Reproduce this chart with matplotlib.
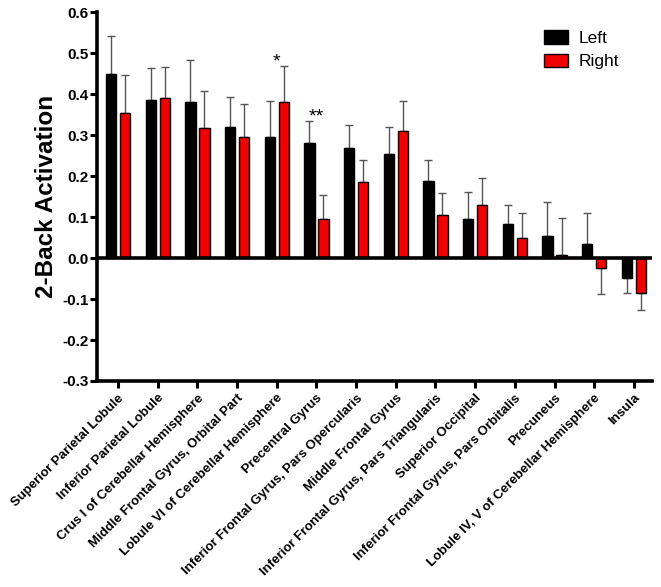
import numpy as np
import matplotlib
matplotlib.use('Agg')
import matplotlib.pyplot as plt
from matplotlib.patches import Patch

plt.rcParams['font.family'] = ['Liberation Sans', 'DejaVu Sans']

# ---------------------------
# data
# ---------------------------
regions = [
    "Superior Parietal Lobule",
    "Inferior Parietal Lobule",
    "Crus I of Cerebellar Hemisphere",
    "Middle Frontal Gyrus, Orbital Part",
    "Lobule VI of Cerebellar Hemisphere",
    "Precentral Gyrus",
    "Inferior Frontal Gyrus, Pars Opercularis",
    "Middle Frontal Gyrus",
    "Inferior Frontal Gyrus, Pars Triangularis",
    "Superior Occipital",
    "Inferior Frontal Gyrus, Pars Orbitalis",
    "Precuneus",
    "Lobule IV, V of Cerebellar Hemisphere",
    "Insula",
]
left_mean = [0.449, 0.385, 0.380, 0.321, 0.295, 0.280, 0.269, 0.254, 0.187, 0.095, 0.083, 0.055, 0.034, -0.048]
left_err = [0.092, 0.078, 0.103, 0.073, 0.088, 0.054, 0.057, 0.065, 0.053, 0.067, 0.047, 0.083, 0.077, 0.038]
right_mean = [0.354, 0.392, 0.318, 0.295, 0.382, 0.095, 0.186, 0.310, 0.104, 0.130, 0.049, 0.007, -0.024, -0.085]
right_err = [0.093, 0.075, 0.091, 0.082, 0.086, 0.059, 0.054, 0.074, 0.055, 0.066, 0.062, 0.091, 0.064, 0.041]

stars = {4: "*", 5: "**"}
star_y = {4: 0.48, 5: 0.345}

# ---------------------------
# plot
# ---------------------------
fig = plt.figure(figsize=(6.61, 5.87), dpi=100)
ax = fig.add_axes([0.1467, 0.351, 0.8393, 0.628])

x = np.arange(len(regions))
w = 0.26
off = 0.177
red = "#F00000"

def one_sided(vals, errs):
    lo = [e if v < 0 else 0 for v, e in zip(vals, errs)]
    hi = [e if v >= 0 else 0 for v, e in zip(vals, errs)]
    return [lo, hi]

ax.bar(x - off, left_mean, w, color="black", edgecolor="black", linewidth=1, zorder=2)
ax.bar(x + off, right_mean, w, color=red, edgecolor="black", linewidth=1, zorder=2)
ax.errorbar(x - off, left_mean, yerr=one_sided(left_mean, left_err), fmt="none",
            ecolor="#555555", elinewidth=1, capsize=3, capthick=1, zorder=1)
ax.errorbar(x + off, right_mean, yerr=one_sided(right_mean, right_err), fmt="none",
            ecolor="#555555", elinewidth=1, capsize=3, capthick=1, zorder=1)

ax.axhline(0, color="black", linewidth=2.6, zorder=3)

for i, s in stars.items():
    ax.text(x[i], star_y[i], s, ha="center", va="center", fontsize=14)

ax.set_xlim(-0.53, 13.45)
ax.set_ylim(-0.3, 0.6)
ax.set_yticks(np.arange(-0.3, 0.61, 0.1))
ax.set_yticklabels([f"{v:.1f}" for v in np.arange(-0.3, 0.61, 0.1)],
                   fontweight="bold", fontsize=11)
ax.set_xticks(x)
ax.set_xticklabels(regions, rotation=45, ha="right", va="top",
                   rotation_mode="anchor", fontsize=9.5, fontweight="bold")
ax.tick_params(axis="both", width=2.2, length=5, direction="out")
ax.tick_params(axis="y", pad=1)
ax.tick_params(axis="x", pad=3)

for sp in ["top", "right"]:
    ax.spines[sp].set_visible(False)
for sp in ["left", "bottom"]:
    ax.spines[sp].set_linewidth(2.6)

ax.set_ylabel("2-Back Activation", fontsize=17.5, fontweight="bold", labelpad=3)

handles = [Patch(facecolor="black", edgecolor="black", label="Left"),
           Patch(facecolor=red, edgecolor="black", label="Right")]
fig.legend(handles=handles, loc="upper left", bbox_to_anchor=(0.8, 0.975),
           frameon=False, fontsize=12.5, handlelength=1.35, handleheight=0.8,
           handletextpad=0.6, labelspacing=0.45)

fig.savefig("out.png", dpi=100)
